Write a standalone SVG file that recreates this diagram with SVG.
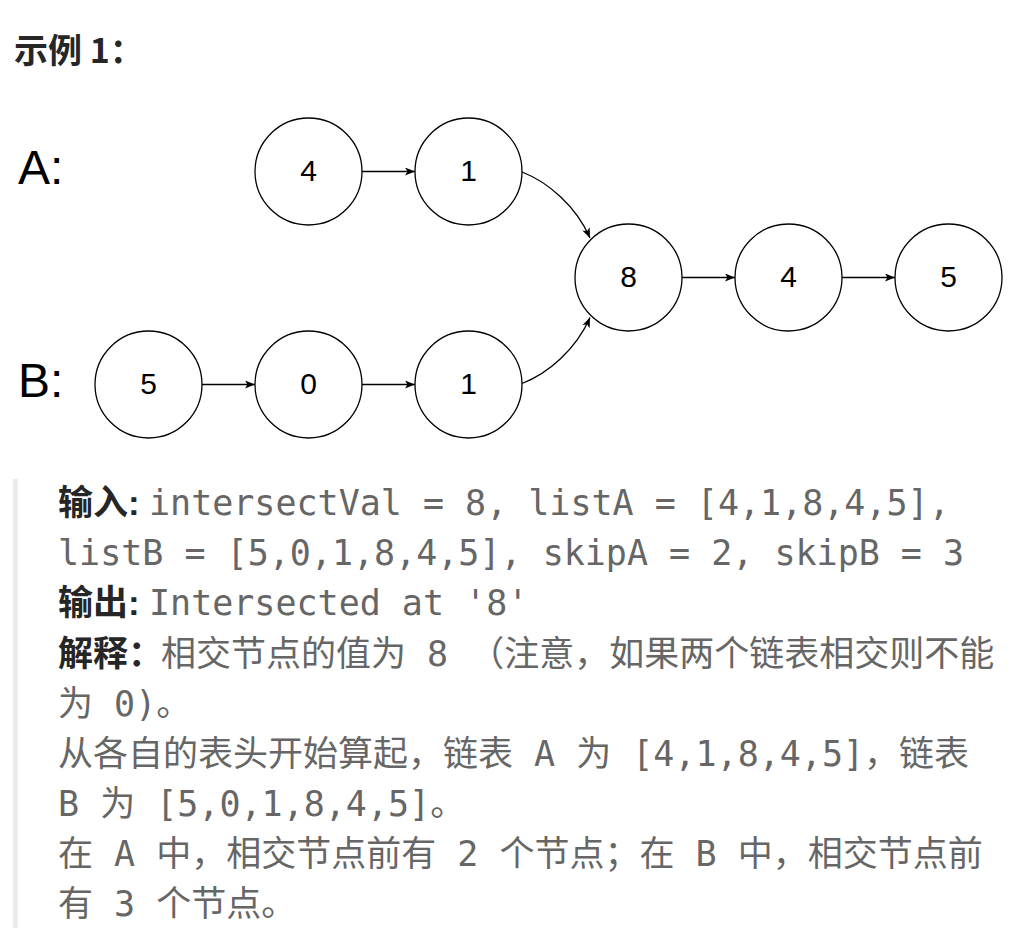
<svg xmlns="http://www.w3.org/2000/svg" width="1035" height="943" viewBox="0 0 1035 943">
<style>
.node circle{fill:#fff;stroke:#000;stroke-width:1.3}
.node text{font-family:"Liberation Sans",Arial,sans-serif;font-size:30px;fill:#000;text-anchor:middle}
.lbl{font-family:"Liberation Sans",Arial,sans-serif;font-size:48px;fill:#000}
.edge{fill:none;stroke:#000;stroke-width:1.3;marker-end:url(#arr)}
.title{font-family:"Noto Sans CJK SC",sans-serif;font-weight:700;font-size:34px;fill:#262626}
.b{font-family:"Liberation Sans","Noto Sans CJK SC",sans-serif;font-weight:700;font-size:35px;fill:#262626}
.t{font-family:"DejaVu Sans Mono","Noto Sans CJK SC",monospace;font-size:35px;fill:#666}
</style>
<defs>
<marker id="arr" markerUnits="userSpaceOnUse" markerWidth="11" markerHeight="9" refX="10" refY="4" orient="auto" viewBox="0 0 11 9">
<path d="M0,0 L10,4 L0,8 L2.5,4 Z" fill="#000"/>
</marker>
</defs>
<rect width="1035" height="943" fill="#fff"/>
<text class="title" x="14" y="63">示例 1：</text>
<text class="lbl" x="18" y="184">A:</text>
<text class="lbl" x="18" y="397">B:</text>
<g id="connectors">
<line class="edge" x1="362" y1="171.5" x2="415" y2="171.5"/>
<path class="edge" d="M522,172 C548,182 576,206 590,238"/>
<line class="edge" x1="202" y1="384.5" x2="255" y2="384.5"/>
<line class="edge" x1="362" y1="384.5" x2="415" y2="384.5"/>
<path class="edge" d="M522,383.5 C548,373.5 576,349.5 590,317.5"/>
<line class="edge" x1="682" y1="277.5" x2="735" y2="277.5"/>
<line class="edge" x1="842" y1="277.5" x2="895" y2="277.5"/>
</g>
<g id="a4" class="node"><circle cx="308.5" cy="171.5" r="53.5"/><text x="308.5" y="181">4</text></g>
<g id="a1" class="node"><circle cx="468.5" cy="171.5" r="53.5"/><text x="468.5" y="181">1</text></g>
<g id="c8" class="node"><circle cx="628.5" cy="277.5" r="53.5"/><text x="628.5" y="287">8</text></g>
<g id="c4" class="node"><circle cx="788.5" cy="277.5" r="53.5"/><text x="788.5" y="287">4</text></g>
<g id="c5" class="node"><circle cx="948.5" cy="277.5" r="53.5"/><text x="948.5" y="287">5</text></g>
<g id="b5" class="node"><circle cx="148.5" cy="384.5" r="53.5"/><text x="148.5" y="393.5">5</text></g>
<g id="b0" class="node"><circle cx="308.5" cy="384.5" r="53.5"/><text x="308.5" y="393.5">0</text></g>
<g id="b1" class="node"><circle cx="468.5" cy="384.5" r="53.5"/><text x="468.5" y="393.5">1</text></g>
<rect x="13" y="479" width="5" height="449" fill="#ebebeb"/>
<text class="b" x="58" y="515">输入:</text>
<text class="t" x="149" y="515">intersectVal = 8, listA = [4,1,8,4,5],</text>
<text class="t" x="58" y="565">listB = [5,0,1,8,4,5], skipA = 2, skipB = 3</text>
<text class="b" x="58" y="615">输出:</text>
<text class="t" x="149" y="615">Intersected at '8'</text>
<text class="b" x="58" y="665.5">解释：</text>
<text class="t" x="161" y="665.5">相交节点的值为 8 （注意，如果两个链表相交则不能</text>
<text class="t" x="58" y="716">为 0)。</text>
<text class="t" x="58" y="766">从各自的表头开始算起，链表 A 为 [4,1,8,4,5]，链表</text>
<text class="t" x="58" y="816">B 为 [5,0,1,8,4,5]。</text>
<text class="t" x="58" y="866">在 A 中，相交节点前有 2 个节点；在 B 中，相交节点前</text>
<text class="t" x="58" y="916">有 3 个节点。</text>
</svg>
